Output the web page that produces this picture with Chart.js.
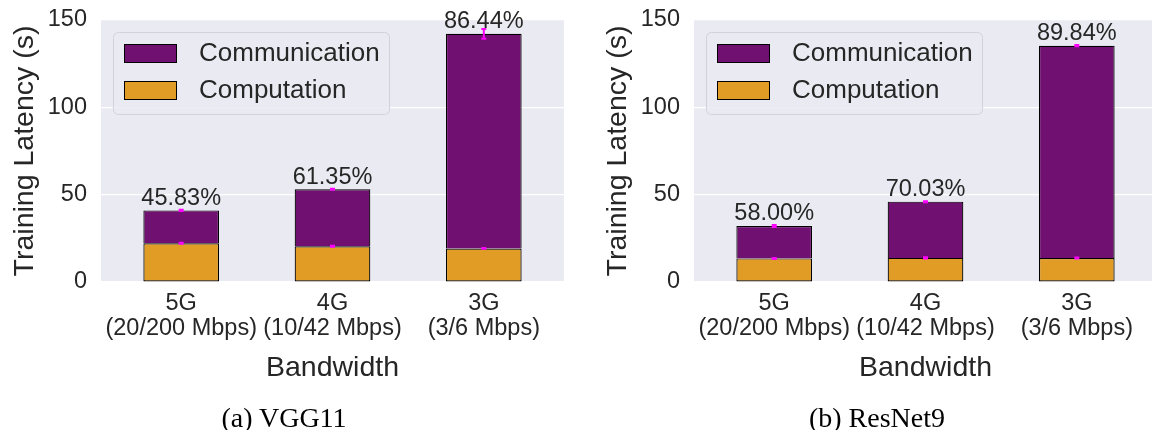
<!DOCTYPE html>
<html>
<head>
<meta charset="utf-8">
<script src="https://cdn.jsdelivr.net/npm/chart.js@4/dist/chart.umd.min.js"></script>
<style>
  html, body { margin: 0; padding: 0; background: #ffffff; width: 1152px; height: 430px; overflow: hidden; position: relative; }
  .panel { position: absolute; top: 0; width: 576px; height: 430px; }
  .caption { position: absolute; top: 404px; width: 320px; margin-left: -160px; text-align: center;
             font-family: "Liberation Serif", "Times New Roman", serif; font-size: 28px; line-height: 28px;
             color: #000000; white-space: nowrap; }
</style>
</head>
<body>
<div class="panel" style="left:0"><canvas id="vggChart" width="576" height="430"></canvas></div>
<div class="panel" style="left:593px"><canvas id="resnetChart" width="576" height="430"></canvas></div>
<div class="caption" style="left:284px">(a) VGG11</div>
<div class="caption" style="left:877px">(b) ResNet9</div>
<script>
// Network settings on the x axis
const bandwidthLabels = [['5G', '(20/200 Mbps)'], ['4G', '(10/42 Mbps)'], ['3G', '(3/6 Mbps)']];
const yTickValues = [0, 50, 100, 150];

// VGG11 latency breakdown (seconds)
const vggComputation = [22.2, 20.5, 19.2];
const vggCommunication = [18.8, 32.6, 122.9];
const vggComputationErr = [0.3, 0.3, 0.2];
const vggCommunicationErr = [0.4, 0.3, 2.8];
const vggCommShare = ['45.83%', '61.35%', '86.44%'];

// ResNet9 latency breakdown (seconds)
const resnetComputation = [13.5, 13.8, 13.7];
const resnetCommunication = [18.6, 32.2, 121.6];
const resnetComputationErr = [0.3, 0.3, 0.3];
const resnetCommunicationErr = [0.6, 0.3, 0.4];
const resnetCommShare = ['58.00%', '70.03%', '89.84%'];

const PURPLE = '#701070';
const ORANGE = '#E09C24';
const EDGE = '#000000';
const TEXT = '#262626';
const PLOT_BG = '#EAEAF2';
const SANS = '"Liberation Sans", Arial, Helvetica, sans-serif';

// Light grey-blue panel behind the plotting area
const plotBackground = {
  id: 'plotBackground',
  beforeDraw(chart) {
    const { ctx, chartArea: a } = chart;
    ctx.save();
    ctx.fillStyle = PLOT_BG;
    ctx.fillRect(a.left, a.top, a.right - a.left, a.bottom - a.top);
    ctx.restore();
  }
};

// Magenta error bars at the top of each stacked segment
const errorBars = {
  id: 'errorBars',
  afterDatasetsDraw(chart) {
    const { ctx } = chart;
    const yScale = chart.scales.y;
    const xScale = chart.scales.x;
    const sets = chart.data.datasets;
    ctx.save();
    ctx.strokeStyle = '#ff00ff';
    ctx.lineWidth = 2;
    sets.forEach((ds, di) => {
      ds.data.forEach((pt, j) => {
        let base = 0;
        for (let k = 0; k < di; k++) base += sets[k].data[j].y;
        const top = base + pt.y;
        const e = ds.errors[j];
        const x = xScale.getPixelForValue(pt.x);
        const yHi = yScale.getPixelForValue(top + e);
        const yLo = yScale.getPixelForValue(top - e);
        ctx.beginPath();
        ctx.moveTo(x, yHi); ctx.lineTo(x, yLo);
        ctx.moveTo(x - 2.5, yHi); ctx.lineTo(x + 2.5, yHi);
        ctx.moveTo(x - 2.5, yLo); ctx.lineTo(x + 2.5, yLo);
        ctx.stroke();
      });
    });
    ctx.restore();
  }
};

// Communication share printed above each bar
const shareLabels = {
  id: 'shareLabels',
  afterDatasetsDraw(chart) {
    const { ctx } = chart;
    const yScale = chart.scales.y;
    const xScale = chart.scales.x;
    const sets = chart.data.datasets;
    const shares = chart.options.plugins.shareLabels.labels;
    ctx.save();
    ctx.fillStyle = TEXT;
    ctx.font = '23.5px ' + SANS;
    ctx.textAlign = 'center';
    ctx.textBaseline = 'alphabetic';
    sets[0].data.forEach((pt, j) => {
      const total = sets.reduce((s, ds) => s + ds.data[j].y, 0);
      ctx.fillText(shares[j], xScale.getPixelForValue(pt.x), yScale.getPixelForValue(total) - 5.5);
    });
    ctx.restore();
  }
};

// Framed legend in the upper-left corner of the plot
const boxLegend = {
  id: 'boxLegend',
  afterDraw(chart) {
    const { ctx, chartArea: a } = chart;
    const x = a.left + 12.5, y = a.top + 12.5, w = 276, h = 82, r = 5;
    ctx.save();
    ctx.beginPath();
    ctx.moveTo(x + r, y);
    ctx.lineTo(x + w - r, y); ctx.arcTo(x + w, y, x + w, y + r, r);
    ctx.lineTo(x + w, y + h - r); ctx.arcTo(x + w, y + h, x + w - r, y + h, r);
    ctx.lineTo(x + r, y + h); ctx.arcTo(x, y + h, x, y + h - r, r);
    ctx.lineTo(x, y + r); ctx.arcTo(x, y, x + r, y, r);
    ctx.closePath();
    ctx.fillStyle = 'rgba(234,234,242,0.85)';
    ctx.fill();
    ctx.strokeStyle = '#d2d2d8';
    ctx.lineWidth = 1;
    ctx.stroke();
    const order = [1, 0];
    order.forEach((di, row) => {
      const ds = chart.data.datasets[di];
      const py = Math.round(y) + 11 + row * 37;
      const px = Math.round(x) + 10;
      ctx.fillStyle = ds.backgroundColor;
      ctx.fillRect(px, py, 53, 19);
      ctx.strokeStyle = EDGE;
      ctx.strokeRect(px + 0.5, py + 0.5, 52, 18);
      ctx.fillStyle = TEXT;
      ctx.font = '26px ' + SANS;
      ctx.textAlign = 'left';
      ctx.textBaseline = 'middle';
      ctx.fillText(ds.label, px + 75, py + 10);
    });
    ctx.restore();
  }
};

function makeChart(canvasId, comp, comm, compErr, commErr, shares) {
  return new Chart(document.getElementById(canvasId), {
    type: 'bar',
    data: {
      datasets: [
        {
          label: 'Computation',
          data: comp.map((v, i) => ({ x: i, y: v })),
          errors: compErr,
          backgroundColor: ORANGE,
          borderColor: EDGE,
          borderWidth: 1.2,
          borderSkipped: false,
          inflateAmount: 0,
          stack: 'latency',
          barPercentage: 0.5,
          categoryPercentage: 1
        },
        {
          label: 'Communication',
          data: comm.map((v, i) => ({ x: i, y: v })),
          errors: commErr,
          backgroundColor: PURPLE,
          borderColor: EDGE,
          borderWidth: 1.2,
          borderSkipped: 'bottom',
          inflateAmount: 0,
          stack: 'latency',
          barPercentage: 0.5,
          categoryPercentage: 1
        }
      ]
    },
    options: {
      responsive: false,
      animation: false,
      layout: { padding: { left: 0, right: 12, top: 20, bottom: 0 } },
      plugins: {
        legend: { display: false },
        tooltip: { enabled: false },
        shareLabels: { labels: shares }
      },
      scales: {
        x: {
          type: 'linear',
          stacked: true,
          min: -0.53,
          max: 2.53,
          offset: false,
          afterBuildTicks: s => { s.ticks = bandwidthLabels.map((_, i) => ({ value: i })); },
          afterFit: s => { s.height = 148; s.paddingLeft = 0; s.paddingRight = 0; },
          grid: { display: false, drawTicks: false },
          border: { display: false },
          ticks: {
            autoSkip: false,
            maxRotation: 0,
            padding: 9.5,
            color: TEXT,
            font: { family: SANS, size: 23.5, lineHeight: '25px' },
            callback: v => bandwidthLabels[v]
          },
          title: {
            display: true,
            text: 'Bandwidth',
            color: TEXT,
            font: { family: SANS, size: 28.5 },
            padding: { top: 0, bottom: 45 }
          }
        },
        y: {
          type: 'linear',
          stacked: true,
          min: 0,
          max: 150,
          afterBuildTicks: s => { s.ticks = yTickValues.map(v => ({ value: v })); },
          afterFit: s => { s.width = 101; s.paddingTop = 0; s.paddingBottom = 0; },
          grid: { color: '#ffffff', lineWidth: 1.2, drawTicks: false },
          border: { display: false },
          ticks: {
            padding: 14,
            color: TEXT,
            font: { family: SANS, size: 23.5 }
          },
          title: {
            display: true,
            text: 'Training Latency (s)',
            color: TEXT,
            font: { family: SANS, size: 28.5 },
            padding: { top: 8, bottom: 0 }
          }
        }
      }
    },
    plugins: [plotBackground, errorBars, shareLabels, boxLegend]
  });
}

makeChart('vggChart', vggComputation, vggCommunication, vggComputationErr, vggCommunicationErr, vggCommShare);
makeChart('resnetChart', resnetComputation, resnetCommunication, resnetComputationErr, resnetCommunicationErr, resnetCommShare);
</script>
</body>
</html>
